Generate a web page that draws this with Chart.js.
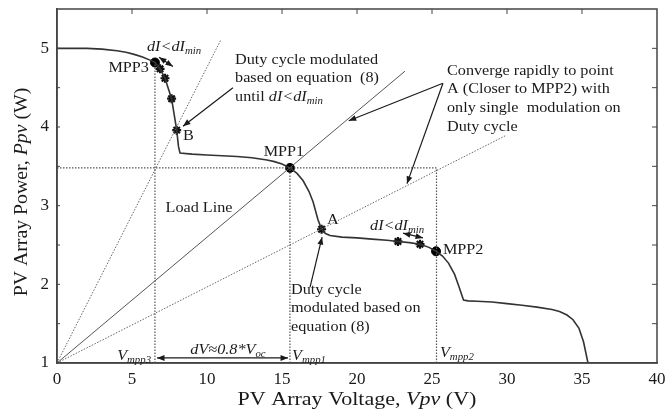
<!DOCTYPE html>
<html><head><meta charset="utf-8">
<script src="https://cdn.jsdelivr.net/npm/chart.js@4/dist/chart.umd.min.js"></script>
<style>html,body{margin:0;padding:0;background:#fff}</style>
</head><body>
<canvas id="c" width="665" height="412"></canvas>
<script>
// ---------- data ----------
const pvVoltage = [0, 2, 3, 4, 4.6, 5.2, 5.7, 6.2, 6.53, 6.87, 7.2, 7.64, 7.98, 8.1, 8.2, 9, 10, 11, 12, 13, 14, 14.5, 15, 15.53, 16, 16.4, 16.8, 17.07, 17.4, 17.64, 17.9, 18.2, 19, 20, 21, 22, 22.73, 23.5, 24.2, 24.8, 25.27, 25.7, 26.1, 26.5, 26.8, 27.1, 27.4, 28, 29, 30, 31, 32, 33, 33.5, 34, 34.4, 34.8, 35.1, 35.4];
const pvPower   = [5.0, 5.0, 4.99, 4.97, 4.95, 4.92, 4.89, 4.85, 4.82, 4.74, 4.62, 4.36, 3.96, 3.75, 3.67, 3.655, 3.645, 3.635, 3.625, 3.61, 3.58, 3.56, 3.53, 3.48, 3.41, 3.32, 3.18, 3.05, 2.82, 2.70, 2.645, 2.62, 2.60, 2.59, 2.575, 2.56, 2.545, 2.53, 2.51, 2.47, 2.42, 2.36, 2.27, 2.13, 1.97, 1.80, 1.79, 1.785, 1.775, 1.755, 1.735, 1.71, 1.68, 1.655, 1.61, 1.55, 1.44, 1.27, 1.0];

const mppVoltage = [6.53, 15.53, 25.27];
const mppPower   = [4.82, 3.48, 2.42];

const stepVoltage = [6.87, 7.2, 7.64, 7.98, 17.64, 22.73, 24.2];
const stepPower   = [4.74, 4.62, 4.36, 3.96, 2.70, 2.545, 2.51];

const loadSteepV = [0, 10.9];  const loadSteepP = [1, 5.1];
const loadMidV   = [0, 23.2];  const loadMidP   = [1, 4.71];
const loadLowV   = [0, 29.9];  const loadLowP   = [1, 3.89];

const guideV = [[6.53, 6.53], [15.53, 15.53], [25.3, 25.3], [0, 25.3]];
const guideP = [[1, 4.82], [1, 3.48], [1, 3.48], [3.48, 3.48]];

const xTicks = [0, 5, 10, 15, 20, 25, 30, 35, 40];
const yTicks = [1, 2, 3, 4, 5];

// ---------- helpers ----------
const FONT = '"Liberation Serif", "Times New Roman", serif';
const INK = '#1a1a1a';
const pts = (xs, ys) => xs.map((x, i) => ({x, y: ys[i]}));

function segFont(s, size) {
  return (s.i ? 'italic ' : '') + (s.sub ? Math.round(size * 0.68) : size) + 'px ' + FONT;
}
function drawRich(ctx, segs, x, y, align, size, sx, rot) {
  sx = sx || 1;
  let w = 0;
  segs.forEach(s => { ctx.font = segFont(s, size); w += ctx.measureText(s.t).width; });
  ctx.save();
  ctx.translate(x, y);
  if (rot) ctx.rotate(rot);
  ctx.scale(sx, 1);
  let cx = align === 'right' ? -w : align === 'center' ? -w / 2 : 0;
  ctx.fillStyle = INK;
  ctx.textBaseline = 'middle';
  ctx.textAlign = 'left';
  segs.forEach(s => {
    ctx.font = segFont(s, size);
    ctx.fillText(s.t, cx, s.sub ? size * 0.28 : 0);
    cx += ctx.measureText(s.t).width;
  });
  ctx.restore();
}
function arrowHead(ctx, x0, y0, x1, y1, len) {
  const a = Math.atan2(y1 - y0, x1 - x0);
  ctx.beginPath();
  ctx.moveTo(x1, y1);
  ctx.lineTo(x1 - len * Math.cos(a - 0.38), y1 - len * Math.sin(a - 0.38));
  ctx.lineTo(x1 - len * Math.cos(a + 0.38), y1 - len * Math.sin(a + 0.38));
  ctx.closePath();
  ctx.fill();
}

const dImin = [{t: 'dI<dI', i: true}, {t: 'min', i: true, sub: true}];
const notes = [
  {at: [6.13, 4.75], align: 'right', segs: [{t: 'MPP3'}]},
  {at: [6.0, 5.01], align: 'left', segs: dImin},
  {at: [8.4, 3.88], align: 'left', segs: [{t: 'B'}]},
  {at: [11.87, 4.85], align: 'left', segs: [{t: 'Duty cycle modulated'}]},
  {at: [11.87, 4.62], align: 'left', segs: [{t: 'based on equation  (8)'}]},
  {at: [11.87, 4.38], align: 'left', segs: [{t: 'until '}, ...dImin]},
  {at: [26.0, 4.71], align: 'left', segs: [{t: 'Converge rapidly to point'}]},
  {at: [26.0, 4.48], align: 'left', segs: [{t: 'A (Closer to MPP2) with'}]},
  {at: [26.0, 4.24], align: 'left', segs: [{t: 'only single  modulation on'}]},
  {at: [26.0, 4.0], align: 'left', segs: [{t: 'Duty cycle'}]},
  {at: [15.13, 3.68], align: 'center', segs: [{t: 'MPP1'}]},
  {at: [9.47, 2.97], align: 'center', segs: [{t: 'Load Line'}]},
  {at: [18.0, 2.82], align: 'left', segs: [{t: 'A'}]},
  {at: [15.6, 1.93], align: 'left', segs: [{t: 'Duty cycle'}]},
  {at: [15.6, 1.70], align: 'left', segs: [{t: 'modulated based on'}]},
  {at: [15.6, 1.46], align: 'left', segs: [{t: 'equation (8)'}]},
  {at: [20.87, 2.74], align: 'left', segs: dImin},
  {at: [25.73, 2.43], align: 'left', segs: [{t: 'MPP2'}]},
  {at: [6.27, 1.09], align: 'right', segs: [{t: 'V', i: true}, {t: 'mpp3', i: true, sub: true}]},
  {at: [11.4, 1.165], align: 'center', segs: [{t: 'dV≈0.8*V', i: true}, {t: 'oc', i: true, sub: true}]},
  {at: [15.67, 1.09], align: 'left', segs: [{t: 'V', i: true}, {t: 'mpp1', i: true, sub: true}]},
  {at: [25.53, 1.127], align: 'left', segs: [{t: 'V', i: true}, {t: 'mpp2', i: true, sub: true}]}
];
const arrows = [
  {from: [6.8, 4.886], to: [7.73, 4.77], both: true},
  {from: [11.73, 4.50], to: [8.4, 4.01]},
  {from: [25.73, 4.556], to: [19.45, 4.08]},
  {from: [25.73, 4.556], to: [23.33, 3.28]},
  {from: [16.87, 1.965], to: [17.67, 2.6]},
  {from: [23.07, 2.65], to: [24.4, 2.59], both: true},
  {from: [6.67, 1.064], to: [15.4, 1.064], both: true}
];

const overlay = {
  id: 'overlay',
  afterDatasetsDraw(chart) {
    const {ctx, chartArea: a, scales: {x, y}} = chart;
    const X = v => x.getPixelForValue(v), Y = v => y.getPixelForValue(v);
    ctx.save();
    ctx.strokeStyle = '#444'; ctx.lineWidth = 1.5;
    ctx.strokeRect(a.left, a.top, a.right - a.left, a.bottom - a.top);
    ctx.lineWidth = 1;
    ctx.beginPath();
    for (let v = 5; v < 40; v += 5) { ctx.moveTo(X(v), a.top); ctx.lineTo(X(v), a.top + 5); }
    for (let v = 1.5; v < 5.5; v += 0.5) {
      ctx.moveTo(a.right, Y(v)); ctx.lineTo(a.right - 5, Y(v));
      ctx.moveTo(a.left, Y(v)); ctx.lineTo(a.left + 3, Y(v));
    }
    ctx.stroke();
    ctx.strokeStyle = INK; ctx.fillStyle = INK; ctx.lineWidth = 1.2;
    arrows.forEach(r => {
      const x0 = X(r.from[0]), y0 = Y(r.from[1]), x1 = X(r.to[0]), y1 = Y(r.to[1]);
      ctx.beginPath(); ctx.moveTo(x0, y0); ctx.lineTo(x1, y1); ctx.stroke();
      arrowHead(ctx, x0, y0, x1, y1, 8);
      if (r.both) arrowHead(ctx, x1, y1, x0, y0, 8);
    });
    ctx.restore();
    notes.forEach(n => drawRich(ctx, n.segs, X(n.at[0]), Y(n.at[1]), n.align, 15, 1.08));
    drawRich(ctx, [{t: 'PV Array Voltage, '}, {t: 'Vpv', i: true}, {t: ' (V)'}],
      (a.left + a.right) / 2, 400, 'center', 19, 1.16);
    drawRich(ctx, [{t: 'PV Array Power, '}, {t: 'Ppv', i: true}, {t: ' (W)'}],
      22, 192, 'center', 18, 1.1, -Math.PI / 2);
  }
};

new Chart(document.getElementById('c'), {
  type: 'scatter',
  data: {
    datasets: [
      ...guideV.map((gv, k) => ({data: pts(gv, guideP[k]), showLine: true, borderColor: '#555', borderWidth: 1.2, borderDash: [1.5, 1.5], pointRadius: 0})),
      {data: pts(loadSteepV, loadSteepP), showLine: true, borderColor: '#666', borderWidth: 1, borderDash: [1.5, 1.5], pointRadius: 0},
      {data: pts(loadMidV, loadMidP), showLine: true, borderColor: '#555', borderWidth: 1, pointRadius: 0},
      {data: pts(loadLowV, loadLowP), showLine: true, borderColor: '#666', borderWidth: 1, borderDash: [1.5, 1.5], pointRadius: 0},
      {data: pts(pvVoltage, pvPower), showLine: true, borderColor: '#333', borderWidth: 1.6, pointRadius: 0, tension: 0},
      {data: pts(stepVoltage, stepPower), showLine: false, pointStyle: 'star', pointRadius: 4.5, borderColor: '#111', borderWidth: 2.2},
      {data: pts(mppVoltage, mppPower), showLine: false, pointStyle: 'circle', pointRadius: 4.5, backgroundColor: '#000', borderColor: '#000'}
    ]
  },
  options: {
    responsive: false,
    animation: false,
    events: [],
    layout: {padding: {top: 9, right: 8, left: 0, bottom: 0}},
    plugins: {legend: {display: false}, tooltip: {enabled: false}},
    scales: {
      x: {
        type: 'linear', min: 0, max: 40,
        afterFit: s => { s.height = 49; s.paddingLeft = 0; s.paddingRight = 0; },
        afterBuildTicks: s => { s.ticks = xTicks.map(v => ({value: v})); },
        grid: {display: false, drawTicks: false},
        border: {display: true, color: '#444', width: 1.5},
        ticks: {padding: 6, color: INK, font: {family: FONT, size: 17}, maxRotation: 0}
      },
      y: {
        type: 'linear', min: 1, max: 5.5,
        afterFit: s => { s.width = 57; s.paddingTop = 0; s.paddingBottom = 0; },
        afterBuildTicks: s => { s.ticks = yTicks.map(v => ({value: v})); },
        grid: {display: false, drawTicks: false},
        border: {display: true, color: '#444', width: 1.5},
        ticks: {padding: 8, color: INK, font: {family: FONT, size: 17}}
      }
    }
  },
  plugins: [overlay]
});
</script>
</body></html>
